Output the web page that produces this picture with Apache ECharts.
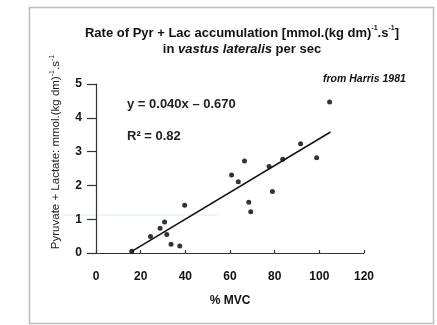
<!DOCTYPE html>
<html>
<head>
<meta charset="utf-8">
<script src="https://cdn.jsdelivr.net/npm/echarts@6/dist/echarts.min.js"></script>
<style>
html, body { margin: 0; padding: 0; background: #fff; }
#chart { width: 437px; height: 325px; }
</style>
</head>
<body>
<div id="chart"></div>
<script>
// % MVC vs Pyr + Lac rate
var mvc = [16, 24.4, 28.7, 30.7, 31.7, 33.6, 37.5, 39.7, 60.7, 63.7, 66.5, 68.4, 69.3, 77.5, 79, 83.6, 91.6, 98.8, 104.6];
var rate = [0.05, 0.49, 0.73, 0.92, 0.55, 0.26, 0.21, 1.41, 2.31, 2.11, 2.72, 1.5, 1.22, 2.56, 1.82, 2.77, 3.23, 2.82, 4.47];
// regression line end points
var fitX = [16, 105];
var fitY = [0.05, 3.58];
var xTicks = [0, 20, 40, 60, 80, 100, 120];
var yTicks = [0, 1, 2, 3, 4, 5];

var pts = [];
for (var i = 0; i < mvc.length; i++) {
    pts.push([mvc[i], rate[i]]);
}
var fit = [];
for (var j = 0; j < fitX.length; j++) {
    fit.push([fitX[j], fitY[j]]);
}

var myChart = echarts.init(document.getElementById('chart'), null, { renderer: 'canvas' });
var font = 'Liberation Sans, Arial, sans-serif';

option = {
    backgroundColor: '#fff',
    animation: false,
    textStyle: { fontFamily: font },
    title: {
        left: 237,
        textAlign: 'center',
        top: 20,
        text: '{b|Rate of Pyr + Lac accumulation [mmol.(kg dm)}{s|-1}{b|.s}{s|-1}{b|]}\n{b|in }{i|vastus lateralis}{b| per sec}',
        textStyle: {
            rich: {
                b: { fontFamily: font, fontSize: 13, fontWeight: 'bold', color: '#111', lineHeight: 16 },
                i: { fontFamily: font, fontSize: 13, fontWeight: 'bold', fontStyle: 'italic', color: '#111', lineHeight: 16 },
                s: { fontFamily: font, fontSize: 7, fontWeight: 'bold', color: '#111', lineHeight: 8, verticalAlign: 'top' }
            }
        }
    },
    grid: { left: 96, right: 73, top: 84, bottom: 72 },
    xAxis: {
        type: 'value',
        min: xTicks[0],
        max: xTicks[xTicks.length - 1],
        interval: 20,
        offset: 5,
        name: '% MVC',
        nameLocation: 'middle',
        nameGap: 37,
        nameTextStyle: { fontFamily: font, fontSize: 12, fontWeight: 'bold', color: '#111' },
        axisLine: { lineStyle: { color: '#333', width: 1.2 } },
        axisTick: { inside: true, length: 3, lineStyle: { color: '#333', width: 1.2 } },
        axisLabel: { margin: 13, fontFamily: font, fontSize: 12, fontWeight: 'bold', color: '#111' },
        splitLine: { show: false }
    },
    yAxis: {
        type: 'value',
        min: yTicks[0],
        max: yTicks[yTicks.length - 1],
        interval: 1,
        name: '{t|Pyruvate + Lactate: mmol.(kg dm)}{s|-1}{t|.s}{s|-1}',
        nameLocation: 'middle',
        nameGap: 33,
        nameTextStyle: {
            padding: [0, 0, 0, 33],
            rich: {
                t: { fontFamily: font, fontSize: 11.5, color: '#222', lineHeight: 14 },
                s: { fontFamily: font, fontSize: 7, color: '#222', lineHeight: 8, verticalAlign: 'top' }
            }
        },
        axisLine: { show: true, lineStyle: { color: '#333', width: 1.2 } },
        axisTick: { show: true, length: 9, lineStyle: { color: '#333', width: 1.2 } },
        axisLabel: { margin: 14, fontFamily: font, fontSize: 12, fontWeight: 'bold', color: '#111' },
        splitLine: { show: false }
    },
    graphic: [
        {
            type: 'rect',
            shape: { x: 29.5, y: 7.5, width: 404, height: 316 },
            style: { fill: 'none', stroke: '#bdbdbd', lineWidth: 1.5 },
            z: -1
        },
        {
            type: 'line',
            shape: { x1: 62, y1: 215, x2: 218, y2: 215 },
            style: { stroke: '#dbeef2', lineWidth: 1 },
            z: -1
        },
        {
            type: 'text',
            left: 127,
            top: 98,
            style: { text: 'y = 0.040x \u2013 0.670', fontFamily: font, fontSize: 13, fontWeight: 'bold', fill: '#222' }
        },
        {
            type: 'text',
            left: 127,
            top: 130,
            style: { text: 'R\u00b2 = 0.82', fontFamily: font, fontSize: 13, fontWeight: 'bold', fill: '#222' }
        },
        {
            type: 'text',
            left: 323,
            top: 74,
            style: { text: 'from Harris 1981', fontFamily: font, fontSize: 10.5, fontWeight: 'bold', fontStyle: 'italic', fill: '#111' }
        }
    ],
    series: [
        {
            name: 'data',
            type: 'scatter',
            data: pts,
            symbol: 'circle',
            symbolSize: 5,
            itemStyle: { color: '#000' }
        },
        {
            name: 'fit',
            type: 'line',
            data: fit,
            showSymbol: false,
            symbol: 'none',
            lineStyle: { color: '#111', width: 1.5 }
        }
    ]
};

myChart.setOption(option);
</script>
</body>
</html>
